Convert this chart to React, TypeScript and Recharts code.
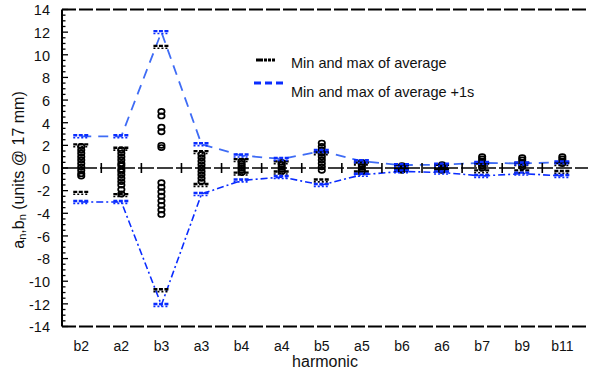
import React from "react";
import {
  ComposedChart,
  Line,
  Scatter,
  XAxis,
  YAxis,
  ReferenceLine,
} from "recharts";

const categories = ["b2", "a2", "b3", "a3", "b4", "a4", "b5", "a5", "b6", "a6", "b7", "b9", "b11"];

// Min and max of average +1s (blue)
const plusSigmaMax = [2.8, 2.8, 12.0, 2.1, 1.1, 0.8, 1.5, 0.6, 0.25, 0.3, 0.45, 0.4, 0.5];
const plusSigmaMin = [-3.0, -3.0, -12.1, -2.3, -1.1, -0.8, -1.5, -0.6, -0.3, -0.4, -0.7, -0.5, -0.7];

// Min and max of average (black)
const averageMax = [2.0, 1.7, 10.7, 1.4, 0.7, 0.5, 1.3, 0.4, 0.15, 0.2, 0.3, 0.35, 0.35];
const averageMin = [-2.2, -2.4, -10.8, -1.5, -0.5, -0.4, -1.1, -0.4, -0.15, -0.2, -0.3, -0.3, -0.35];

// individual measured values per harmonic
const b2Values = [1.9, 1.6, 1.3, 1.0, 0.7, 0.4, 0.1, -0.2, -0.5, -0.7];
const a2Values = [1.6, 1.3, 1.0, 0.7, 0.4, 0.2, -0.1, -0.3, -0.6, -0.9, -1.2, -1.5, -1.9, -2.3];
const b3Values = [5.0, 4.6, 3.6, 3.2, 2.0, 1.8, -1.3, -1.7, -2.1, -2.5, -2.9, -3.3, -3.7, -4.1];
const a3Values = [1.2, 0.9, 0.6, 0.3, 0.0, -0.3, -0.6, -0.9, -1.2];
const b4Values = [0.6, 0.4, 0.2, 0.0, -0.2, -0.4];
const a4Values = [0.5, 0.3, 0.1, -0.1, -0.3];
const b5Values = [2.2, 1.9, 1.6, 1.3, 1.0, 0.7, 0.4, 0.1, -0.2];
const a5Values = [0.5, 0.3, 0.1, -0.1, -0.3];
const b6Values = [0.2, 0.1, 0.0, -0.1, -0.2];
const a6Values = [0.3, 0.1, -0.1, -0.2];
const b7Values = [1.0, 0.8, 0.6, 0.4, 0.2, 0.0];
const b9Values = [0.9, 0.7, 0.5, 0.3, 0.1];
const b11Values = [1.0, 0.8, 0.6, 0.4];

const measured = [
  b2Values, a2Values, b3Values, a3Values, b4Values, a4Values, b5Values,
  a5Values, b6Values, a6Values, b7Values, b9Values, b11Values,
];

const yTicks: number[] = [];
for (let v = -14; v <= 14; v += 0.5) yTicks.push(v);

const rows = categories.map((c, i) => ({
  x: i,
  name: c,
  hi: plusSigmaMax[i],
  lo: plusSigmaMin[i],
}));
const blueHiPts = categories.map((_, i) => ({ x: i, y: plusSigmaMax[i] }));
const blueLoPts = categories.map((_, i) => ({ x: i, y: plusSigmaMin[i] }));
const avgPts = categories.flatMap((_, i) => [
  { x: i, y: averageMax[i] },
  { x: i, y: averageMin[i] },
]);
const measuredPts = measured.flatMap((vals, i) => vals.map((v) => ({ x: i, y: v })));
const midPts = categories.slice(1).map((_, i) => ({ x: i + 0.5, y: 0 }));

const FONT = '"Liberation Sans", Arial, Helvetica, sans-serif';
const BLUE = "#0a2cff";
const BLUE_LIGHT = "#3f6cf5";

const BlueMark = (p: any) => {
  const { cx, cy } = p;
  return (
    <g>
      <line x1={cx - 8} x2={cx + 8} y1={cy - 1} y2={cy - 1} stroke={BLUE} strokeWidth={2.4} strokeDasharray="4 1.5" />
      <line x1={cx - 8} x2={cx + 8} y1={cy + 1.4} y2={cy + 1.4} stroke={BLUE} strokeWidth={1.6} strokeDasharray="2 2" />
    </g>
  );
};

const BlackMark = (p: any) => {
  const { cx, cy } = p;
  return (
    <g>
      <line x1={cx - 8} x2={cx + 8} y1={cy - 1} y2={cy - 1} stroke="#000" strokeWidth={2.4} strokeDasharray="4 1.5" />
      <line x1={cx - 8} x2={cx + 8} y1={cy + 1.4} y2={cy + 1.4} stroke="#000" strokeWidth={1.6} strokeDasharray="2 2" />
    </g>
  );
};

const Circle = (p: any) => {
  const { cx, cy } = p;
  return <ellipse cx={cx} cy={cy} rx={3.2} ry={2.6} fill="none" stroke="#000" strokeWidth={1.7} />;
};

const Plus = (p: any) => {
  const { cx, cy } = p;
  return <line x1={cx} x2={cx} y1={cy - 5} y2={cy + 5} stroke="#000" strokeWidth={1.6} />;
};

const YTick = (p: any) => {
  const { x, y, payload } = p;
  const v = payload.value;
  const major = Math.abs(v % 2) < 1e-9;
  const ax = x + 12;
  return (
    <g>
      <line x1={ax} x2={ax + (major ? 6 : 3.5)} y1={y} y2={y} stroke="#000" strokeWidth={1.3} />
      {major && (
        <text x={x} y={y} dy="0.4em" textAnchor="end" fontSize={14.5} fontFamily={FONT} fill="#111">
          {v}
        </text>
      )}
    </g>
  );
};

const YLabel = (p: any) => {
  const vb = p.viewBox || {};
  const cx = 18;
  const cy = (vb.y ?? 9.5) + (vb.height ?? 317) / 2 + 2;
  return (
    <text
      x={cx}
      y={cy}
      transform={`rotate(-90 ${cx} ${cy})`}
      textAnchor="middle"
      dominantBaseline="central"
      fontSize={16}
      fontFamily={FONT}
      fill="#111"
    >
      a<tspan fontSize={11} dy={4}>n</tspan>
      <tspan dy={-4}>,b</tspan>
      <tspan fontSize={11} dy={4}>n</tspan>
      <tspan dy={-4}> (units @ 17 mm)</tspan>
    </text>
  );
};

export default function App() {
  return (
    <div
      style={{
        position: "absolute",
        left: 0,
        top: 0,
        width: 590,
        height: 376,
        background: "#fff",
        fontFamily: FONT,
      }}
    >
      <ComposedChart
        width={590}
        height={376}
        data={rows}
        margin={{ top: 9.5, right: 2, bottom: 0, left: 0 }}
      >
        <XAxis
          type="number"
          dataKey="x"
          domain={[-0.48, 12.64]}
          ticks={categories.map((_, i) => i)}
          tickFormatter={(v: number) => categories[v] ?? ""}
          axisLine={false}
          tickLine={false}
          tickSize={0}
          tickMargin={15}
          height={49.5}
          tick={{ fontSize: 14, fill: "#111", fontFamily: FONT }}
          allowDataOverflow
          label={{ value: "harmonic", position: "insideBottom", offset: 9, fontSize: 16, fill: "#111", fontFamily: FONT }}
        />
        <YAxis
          type="number"
          domain={[-14, 14]}
          ticks={yTicks}
          interval={0}
          width={62}
          tickSize={0}
          tickMargin={12}
          tickLine={false}
          axisLine={{ stroke: "#000", strokeWidth: 2 }}
          tick={<YTick />}
          allowDataOverflow
          label={<YLabel />}
        />
        <ReferenceLine y={14} stroke="#000" strokeWidth={2} strokeDasharray="14 3" />
        <ReferenceLine y={-14} stroke="#000" strokeWidth={2} strokeDasharray="14 3" />
        <ReferenceLine y={0} stroke="#000" strokeWidth={1.5} strokeDasharray="16 3" />
        <Scatter data={midPts} dataKey="y" shape={<Plus />} isAnimationActive={false} />
        <Line
          dataKey="hi"
          stroke={BLUE_LIGHT}
          strokeWidth={1.8}
          strokeDasharray="10 7"
          dot={false}
          isAnimationActive={false}
          type="linear"
        />
        <Line
          dataKey="lo"
          stroke={BLUE}
          strokeWidth={1.6}
          strokeDasharray="7 3 2 3"
          dot={false}
          isAnimationActive={false}
          type="linear"
        />
        <Scatter data={measuredPts} dataKey="y" shape={<Circle />} isAnimationActive={false} />
        <Scatter data={avgPts} dataKey="y" shape={<BlackMark />} isAnimationActive={false} />
        <Scatter data={blueHiPts} dataKey="y" shape={<BlueMark />} isAnimationActive={false} />
        <Scatter data={blueLoPts} dataKey="y" shape={<BlueMark />} isAnimationActive={false} />
      </ComposedChart>
      <div style={{ position: "absolute", left: 254, top: 52, fontSize: 14.5, color: "#111", lineHeight: "16px" }}>
        <div style={{ position: "relative", height: 24 }}>
          <svg width={32} height={10} style={{ position: "absolute", left: 0, top: 3 }}>
            <line x1={2} x2={24} y1={5} y2={5} stroke="#000" strokeWidth={3} strokeDasharray="7 1 3 1 3 1 3" />
          </svg>
          <span style={{ position: "absolute", left: 37, top: 3, whiteSpace: "nowrap" }}>Min and max of average</span>
        </div>
        <div style={{ position: "relative", height: 24 }}>
          <svg width={34} height={10} style={{ position: "absolute", left: 0, top: 2 }}>
            <line x1={0} x2={31} y1={5} y2={5} stroke={BLUE} strokeWidth={3} strokeDasharray="7 4" />
          </svg>
          <span style={{ position: "absolute", left: 37, top: 8, whiteSpace: "nowrap" }}>Min and max of average +1s</span>
        </div>
      </div>
    </div>
  );
}
